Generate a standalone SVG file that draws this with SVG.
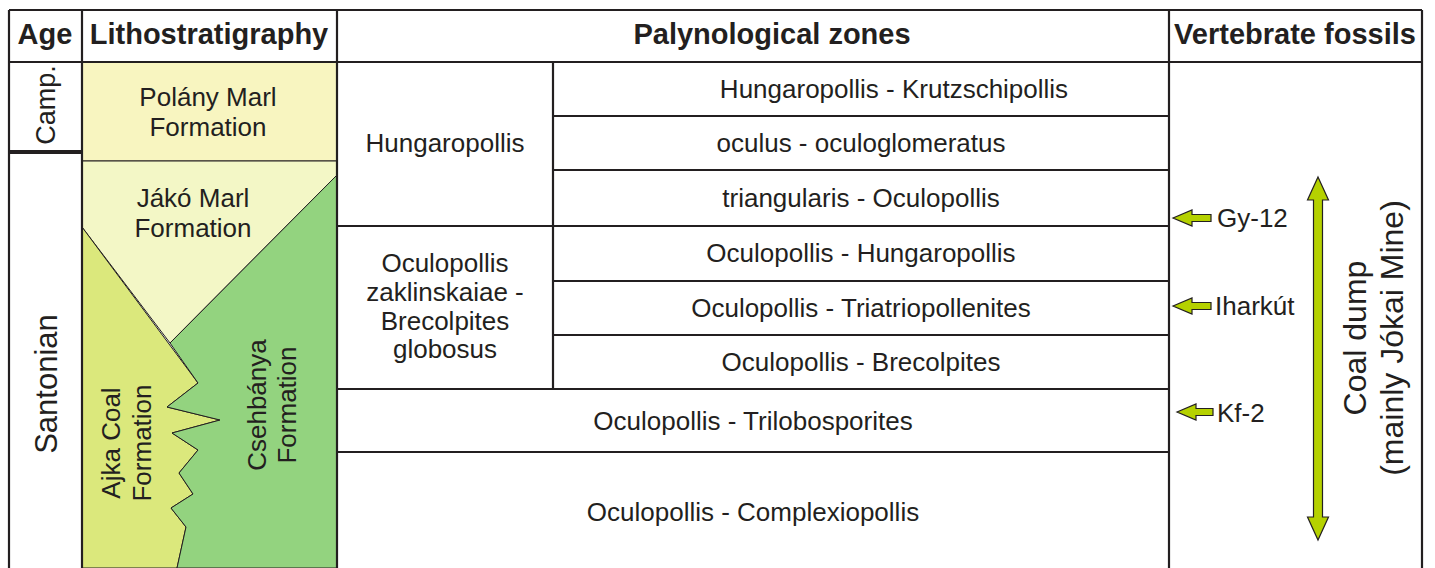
<svg xmlns="http://www.w3.org/2000/svg" width="1435" height="568" viewBox="0 0 1435 568">
<style>
.t{font-family:"Liberation Sans",Arial,sans-serif;font-size:26px;fill:#231f20}
.m{text-anchor:middle}
.h{font-family:"Liberation Sans",Arial,sans-serif;font-size:29px;font-weight:bold;fill:#231f20;text-anchor:middle}
.g{stroke:#231f20;stroke-width:2.2;fill:none}
.b{stroke:#231f20;stroke-width:1}
.ar{fill:#b5d100;stroke:#231f20;stroke-width:1.2;stroke-linejoin:miter}
</style>
<rect x="0" y="0" width="1435" height="568" fill="#ffffff"/>

<g id="lithostratigraphy">
  <g id="polany">
    <rect x="82" y="62" width="255" height="99" fill="#f8f5c0" class="b"/>
    <text class="t m" x="208" y="106">Polány Marl</text>
    <text class="t m" x="208" y="136">Formation</text>
  </g>
  <g id="jako">
    <polygon points="82,161 337,161 337,175 170,343 82,227" fill="#f3f7c6" class="b"/>
    <text class="t m" x="193" y="207">Jákó Marl</text>
    <text class="t m" x="193" y="237">Formation</text>
  </g>
  <g id="ajka">
    <polygon points="82,227 198,383 167,407 220,420 172,433 198,450 179,473 193,494 171,508 186,527 177,568 82,568" fill="#dbe87c" class="b"/>
    <text class="t m" x="120" y="443" transform="rotate(-90 120 443)">Ajka Coal</text>
    <text class="t m" x="151" y="443" transform="rotate(-90 151 443)">Formation</text>
  </g>
  <g id="csehbanya">
    <polygon points="337,175 337,568 177,568 186,527 171,508 193,494 179,473 198,450 172,433 220,420 167,407 198,383 170,343" fill="#93d37f" class="b"/>
    <text class="t m" x="266" y="405" transform="rotate(-90 266 405)">Csehbánya</text>
    <text class="t m" x="296" y="405" transform="rotate(-90 296 405)">Formation</text>
  </g>
</g>

<g id="grid">
  <path class="g" d="M9,10 H1422 M9,62 H1422 M9,10 V568 M82,10 V568 M337,10 V568 M1169,10 V568 M1422,10 V568 M553,62 V389 M553,116 H1169 M553,170 H1169 M337,226 H1169 M553,281 H1169 M553,335 H1169 M337,389 H1169 M337,452 H1169"/>
  <path d="M9,152 H82" stroke="#231f20" stroke-width="4"/>
</g>

<g id="headers">
  <g id="h-age"><text class="h" x="45" y="44">Age</text></g>
  <g id="h-litho"><text class="h" x="209" y="44">Lithostratigraphy</text></g>
  <g id="h-paly"><text class="h" x="772" y="44">Palynological zones</text></g>
  <g id="h-vert"><text class="h" x="1295" y="44">Vertebrate fossils</text></g>
</g>

<g id="age">
  <g id="camp"><text class="t m" style="font-size:27px" x="55" y="105" transform="rotate(-90 55 105)">Camp.</text></g>
  <g id="santonian"><text class="t m" style="font-size:31px" x="57" y="384" transform="rotate(-90 57 384)">Santonian</text></g>
</g>

<g id="zones">
  <g id="z-hungaropollis"><text class="t m" x="445" y="152">Hungaropollis</text></g>
  <g id="z-oculopollis">
    <text class="t m" x="445" y="272">Oculopollis</text>
    <text class="t m" x="445" y="301">zaklinskaiae -</text>
    <text class="t m" x="445" y="330">Brecolpites</text>
    <text class="t m" x="445" y="358">globosus</text>
  </g>
  <g id="s1"><text class="t m" x="894" y="98">Hungaropollis - Krutzschipollis</text></g>
  <g id="s2"><text class="t m" x="861" y="152">oculus - oculoglomeratus</text></g>
  <g id="s3"><text class="t m" x="861" y="207">triangularis - Oculopollis</text></g>
  <g id="s4"><text class="t m" x="861" y="262">Oculopollis - Hungaropollis</text></g>
  <g id="s5"><text class="t m" x="861" y="317">Oculopollis - Triatriopollenites</text></g>
  <g id="s6"><text class="t m" x="861" y="371">Oculopollis - Brecolpites</text></g>
  <g id="z7"><text class="t m" x="753" y="430">Oculopollis - Trilobosporites</text></g>
  <g id="z8"><text class="t m" x="753" y="521">Oculopollis - Complexiopollis</text></g>
</g>

<g id="fossils">
  <g id="gy12"><text class="t" x="1217" y="227">Gy-12</text></g>
  <g id="iharkut"><text class="t" x="1215" y="315">Iharkút</text></g>
  <g id="kf2"><text class="t" x="1217" y="422">Kf-2</text></g>
  <g id="coaldump">
    <text class="t m" style="font-size:32px" x="1366" y="338" transform="rotate(-90 1366 338)">Coal dump</text>
    <text class="t m" style="font-size:32px" x="1403" y="338" transform="rotate(-90 1403 338)">(mainly Jókai Mine)</text>
  </g>
</g>

<g id="connectors">
  <polygon class="ar" points="1173,218 1192,210 1192,214.5 1211,214.5 1211,221.5 1192,221.5 1192,226"/>
  <polygon class="ar" points="1173,306 1192,298 1192,302.5 1211,302.5 1211,309.5 1192,309.5 1192,314"/>
  <polygon class="ar" points="1177,412 1196,404 1196,408.5 1213,408.5 1213,415.5 1196,415.5 1196,420"/>
  <polygon class="ar" points="1318,177 1328.5,200 1322.5,200 1322.5,517 1328.5,517 1318,540 1307.5,517 1313.5,517 1313.5,200 1307.5,200"/>
</g>
</svg>
